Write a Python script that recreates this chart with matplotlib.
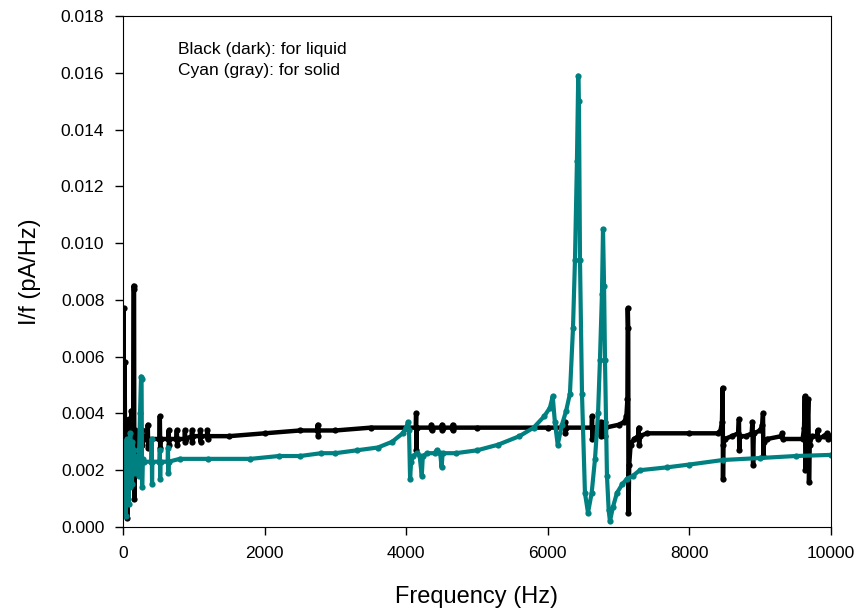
import matplotlib
matplotlib.use("Agg")
import matplotlib.pyplot as plt
from matplotlib.ticker import FixedLocator, FormatStrFormatter

plt.rcParams['font.family'] = ['Liberation Sans', 'DejaVu Sans']

# Liquid (black) series: frequency (Hz), I/f (pA/Hz)
liquid_freq = [0, 8, 15, 22, 30, 38, 45, 52, 60, 68, 76, 84, 92, 100, 110, 118, 126, 134,
               142, 150, 156, 160, 168, 178, 190, 205, 220, 245, 270, 275, 290, 330,
               345, 350, 355, 360, 515, 520, 525, 530, 640, 645, 650, 655,
               755, 760, 765, 770, 870, 875, 880, 885, 970, 975, 980, 985,
               1085, 1090, 1095, 1100, 1185, 1190, 1195, 1200, 1500, 2000, 2500,
               2745, 2750, 2755, 2760, 3000, 3500, 4000,
               4135, 4140, 4145, 4150, 4350, 4355, 4360, 4365, 4500, 4505, 4510, 4515,
               4650, 4655, 4660, 4665, 5000, 6000, 6240, 6245, 6250, 6255,
               6620, 6625, 6630, 6635, 6740, 6745, 6750, 6755, 6800, 6805, 6810, 6815,
               7000, 7080, 7110, 7125, 7130, 7136, 7140, 7150, 7170, 7220, 7280, 7285,
               7290, 7300, 7400, 8000, 8400, 8440, 8460, 8470, 8475, 8480, 8500, 8600,
               8690, 8700, 8705, 8710, 8800, 8880, 8890, 8900, 8910, 9000, 9030, 9040,
               9045, 9055, 9100, 9300, 9310, 9320, 9600, 9620, 9630, 9640, 9660, 9680,
               9690, 9700, 9730, 9800, 9810, 9820, 9900, 9950, 9960, 10000]
liquid_val = [0.0030, 0.0077, 0.0027, 0.0058, 0.0026, 0.0036, 0.0022, 0.0034, 0.0003,
              0.0032, 0.0018, 0.0038, 0.0026, 0.0034, 0.0024, 0.0041, 0.0028, 0.0036,
              0.0024, 0.0085, 0.0084, 0.0010, 0.0034, 0.0029, 0.0033, 0.0030, 0.0032,
              0.0031, 0.0034, 0.0029, 0.0032, 0.0031,
              0.0031, 0.0036, 0.0028, 0.0031, 0.0031, 0.0039, 0.0028, 0.0031,
              0.0031, 0.0034, 0.0029, 0.0031, 0.0031, 0.0034, 0.0029, 0.0031,
              0.0031, 0.0034, 0.0030, 0.0031, 0.0032, 0.0034, 0.0030, 0.0032,
              0.0032, 0.0034, 0.0030, 0.0032, 0.0032, 0.0034, 0.0031, 0.0032,
              0.0032, 0.0033, 0.0034, 0.0034, 0.0036, 0.0032, 0.0034, 0.0034,
              0.0035, 0.0035, 0.0035, 0.0040, 0.0027, 0.0035, 0.0035, 0.0036,
              0.0034, 0.0035, 0.0035, 0.0036, 0.0034, 0.0035, 0.0035, 0.0036,
              0.0034, 0.0035, 0.0035, 0.0035, 0.0035, 0.0037, 0.0033, 0.0035,
              0.0035, 0.0039, 0.0031, 0.0035, 0.0035, 0.0037, 0.0032, 0.0035,
              0.0035, 0.0037, 0.0032, 0.0035, 0.0036, 0.0037, 0.0039, 0.0045,
              0.0077, 0.0070, 0.0005, 0.0022, 0.0029, 0.0031, 0.0032, 0.0035,
              0.0029, 0.0032, 0.0033, 0.0033, 0.0033, 0.0034, 0.0037, 0.0049,
              0.0017, 0.0029, 0.0031, 0.0032, 0.0033, 0.0038, 0.0027, 0.0032,
              0.0032, 0.0033, 0.0037, 0.0022, 0.0033, 0.0034, 0.0036, 0.0040,
              0.0025, 0.0030, 0.0031, 0.0032, 0.0033, 0.0031, 0.0031, 0.0035,
              0.0046, 0.0020, 0.0030, 0.0045, 0.0016, 0.0029, 0.0032, 0.0032,
              0.0034, 0.0031, 0.0032, 0.0033, 0.0031, 0.0032]

# Solid (cyan) series
solid_freq = [0, 6, 12, 18, 24, 30, 36, 42, 48, 55, 62, 70, 78, 86, 94, 102, 110, 118,
              126, 134, 142, 150, 160, 175, 190, 205, 220, 240, 255, 262, 270, 280, 300,
              400, 405, 410, 415, 515, 520, 525, 530, 630, 635, 640, 645, 800, 1200,
              1800, 2200, 2500, 2800, 3000, 3300, 3600, 3800, 3950, 4000, 4025, 4040,
              4055, 4070, 4100, 4150, 4190, 4220, 4235, 4300, 4400, 4430, 4480, 4500,
              4515, 4700, 5000, 5300, 5600, 5800, 5950, 6030, 6070, 6100, 6140, 6200,
              6260, 6313, 6356, 6384, 6412, 6430, 6440, 6455, 6483, 6525, 6568, 6620,
              6667, 6710, 6737, 6765, 6780, 6795, 6808, 6836, 6860, 6878, 6920, 6977,
              7050, 7119, 7200, 7300, 7680, 8000, 8475, 9000, 9500, 10000]
solid_val = [0.0020, 0.0006, 0.0025, 0.0010, 0.0030, 0.0018, 0.0004, 0.0026, 0.0012,
             0.0031, 0.0016, 0.0024, 0.0008, 0.0029, 0.0014, 0.0033, 0.0019, 0.0025,
             0.0015, 0.0030, 0.0022, 0.0027, 0.0019, 0.0025, 0.0020, 0.0024, 0.0018,
             0.0040, 0.0053, 0.0052, 0.0014, 0.0024, 0.0023,
             0.0023, 0.0031, 0.0015, 0.0023, 0.0023, 0.0027, 0.0017, 0.0023,
             0.0023, 0.0028, 0.0019, 0.0023, 0.0024, 0.0024,
             0.0024, 0.0025, 0.0025, 0.0026, 0.0026, 0.0027, 0.0028, 0.0030, 0.0033,
             0.0035, 0.0037, 0.0034, 0.0017, 0.0023, 0.0025, 0.0026, 0.0025, 0.0018,
             0.0025, 0.0026, 0.0026, 0.0027, 0.0026, 0.0021, 0.0026, 0.0026, 0.0027,
             0.0029, 0.0032, 0.0035, 0.0039, 0.0042, 0.0046, 0.0037, 0.0029, 0.0036,
             0.0041, 0.0047, 0.0070, 0.0094, 0.0129, 0.0159, 0.0150, 0.0094, 0.0047,
             0.0012, 0.0005, 0.0012, 0.0024, 0.0040, 0.0059, 0.0082, 0.0105, 0.0085,
             0.0059, 0.0018, 0.0006, 0.0002, 0.0007, 0.0012, 0.0015, 0.0017, 0.0018,
             0.0020, 0.0021, 0.0022, 0.00236, 0.00243, 0.0025, 0.00254]

x_ticks = [0, 2000, 4000, 6000, 8000, 10000]
y_ticks = [0.000, 0.002, 0.004, 0.006, 0.008, 0.010, 0.012, 0.014, 0.016, 0.018]

fig = plt.figure(figsize=(8.62, 6.13), dpi=100)
ax = fig.add_axes([0.1427, 0.1403, 0.8213, 0.8336])

ax.plot(liquid_freq, liquid_val, color='black', lw=3.2, marker='o', ms=4.5,
        markeredgewidth=0, solid_joinstyle='round')
ax.plot(solid_freq, solid_val, color='#008080', lw=3.0, marker='o', ms=4.5,
        markeredgewidth=0, solid_joinstyle='round')

ax.set_xlim(0, 10000)
ax.set_ylim(0, 0.018)
ax.xaxis.set_major_locator(FixedLocator(x_ticks))
ax.yaxis.set_major_locator(FixedLocator(y_ticks))
ax.yaxis.set_major_formatter(FormatStrFormatter('%.3f'))
ax.tick_params(direction='out', length=5.5, width=1, labelsize=12.5, top=False, right=False)
ax.tick_params(axis='y', pad=8)
ax.tick_params(axis='x', pad=8)
ax.set_xlabel('Frequency (Hz)', fontsize=17, labelpad=18)
ax.set_ylabel('I/f (pA/Hz)', fontsize=17, labelpad=14)

ax.text(0.078, 0.935, 'Black (dark): for liquid', transform=ax.transAxes,
        fontsize=12.5, va='center')
ax.text(0.078, 0.894, 'Cyan (gray): for solid', transform=ax.transAxes,
        fontsize=12.5, va='center')

fig.savefig('out.png', dpi=100)
